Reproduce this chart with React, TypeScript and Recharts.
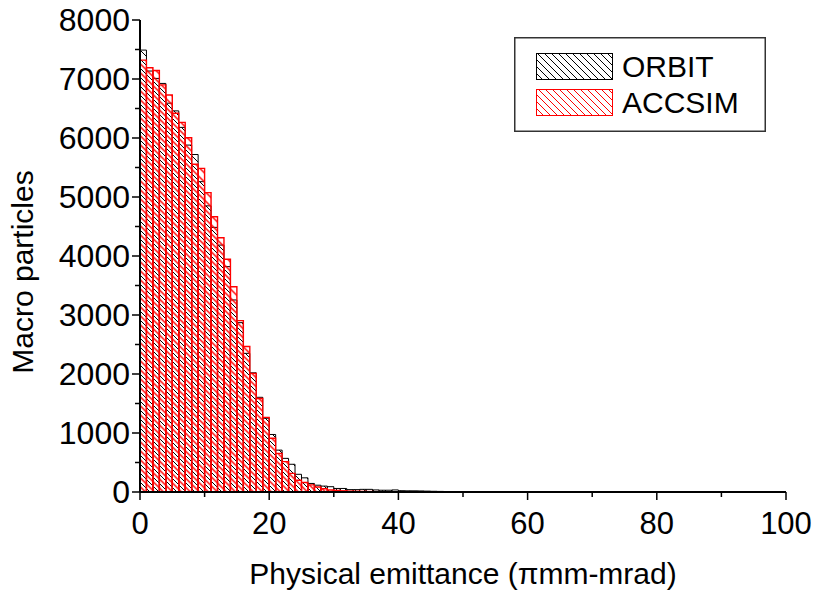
import React from 'react'
import { BarChart, Bar, XAxis, YAxis, Legend, Label } from 'recharts'

// histogram bins of width 1 (pi mm-mrad), 0..100
const binStarts = Array.from({ length: 100 }, (_, i) => i)

const orbit = [
  7490, 7135, 7010, 6925, 6590, 6460, 6180, 5880, 5720, 5260,
  4850, 4485, 4185, 3820, 3255, 2870, 2350, 2020, 1605, 1250,
  975, 710, 570, 470, 300, 240, 145, 115, 100, 90,
  60, 60, 40, 40, 45, 45, 35, 30, 30, 35,
  22, 20, 20, 18, 15, 12, 10, 8, 6, 6,
  5, 5, 4, 4, 3, 3, 3, 2, 2, 2,
  2, 1, 1, 1, 1, 1, 0, 0, 0, 0,
  0, 0, 0, 0, 0, 0, 0, 0, 0, 0,
  0, 0, 0, 0, 0, 0, 0, 0, 0, 0,
  0, 0, 0, 0, 0, 0, 0, 0, 0, 0,
]

const accsim = [
  7320, 7190, 7145, 6900, 6730, 6420, 6265, 6005, 5555, 5485,
  5075, 4665, 4310, 3945, 3480, 2905, 2465, 2010, 1585, 1265,
  910, 655, 515, 315, 200, 160, 120, 85, 55, 35,
  25, 20, 15, 12, 10, 8, 6, 5, 4, 3,
  3, 2, 2, 1, 1, 1, 0, 0, 0, 0,
  0, 0, 0, 0, 0, 0, 0, 0, 0, 0,
  0, 0, 0, 0, 0, 0, 0, 0, 0, 0,
  0, 0, 0, 0, 0, 0, 0, 0, 0, 0,
  0, 0, 0, 0, 0, 0, 0, 0, 0, 0,
  0, 0, 0, 0, 0, 0, 0, 0, 0, 0,
]

const xTicks = [0, 10, 20, 30, 40, 50, 60, 70, 80, 90, 100]
const yTicks = [0, 500, 1000, 1500, 2000, 2500, 3000, 3500, 4000, 4500, 5000, 5500, 6000, 6500, 7000, 7500, 8000]

const data = binStarts.map(i => ({ x: i + 0.5, orbit: orbit[i], accsim: accsim[i] }))

const FONT = '"Liberation Sans", Arial, Helvetica, sans-serif'
const HATCH = 9

const XTick = ({ x, y, payload }: any) => {
  const major = payload.value % 20 === 0
  return (
    <g>
      <line x1={x} y1={y} x2={x} y2={y + (major ? 8 : 5)} stroke="#000" strokeWidth={1.5} />
      {major && (
        <text x={x} y={y + 42} textAnchor="middle" fontSize={31} fill="#000">
          {payload.value}
        </text>
      )}
    </g>
  )
}

const YTick = ({ x, y, payload }: any) => {
  const major = payload.value % 1000 === 0
  return (
    <g>
      <line x1={x} y1={y} x2={x - (major ? 8 : 5)} y2={y} stroke="#000" strokeWidth={1.5} />
      {major && (
        <text x={x - 10} y={y + 11} textAnchor="end" fontSize={32} fill="#000">
          {payload.value}
        </text>
      )}
    </g>
  )
}

const Swatch = ({ id, color, y }: { id: string; color: string; y: number }) => (
  <rect x={22.5} y={y} width={76} height={26} fill={`url(#${id})`} stroke={color} strokeWidth={1} />
)

const LegendBox = () => (
  <svg width={252} height={95} style={{ display: 'block', fontFamily: FONT }}>
    <defs>
      <pattern id="lg-black" patternUnits="userSpaceOnUse" width={7} height={7}>
        <path d="M0,0L7,7M-1,6L1,8M6,-1L8,1" stroke="#000" strokeWidth={1} />
      </pattern>
      <pattern id="lg-red" patternUnits="userSpaceOnUse" width={7} height={7}>
        <path d="M0,0L7,7M-1,6L1,8M6,-1L8,1" stroke="#ff0000" strokeWidth={1} />
      </pattern>
    </defs>
    <rect x={0.75} y={0.75} width={250.5} height={93.5} fill="#fff" stroke="#333" strokeWidth={1.5} />
    <Swatch id="lg-black" color="#000" y={16.5} />
    <text x={108} y={40} fontSize={30} fill="#000">ORBIT</text>
    <Swatch id="lg-red" color="#ff0000" y={52.5} />
    <text x={108} y={76} fontSize={30} fill="#000">ACCSIM</text>
  </svg>
)

const hatchPath = `M0,0L${HATCH},${HATCH}M-1,${HATCH - 1}L1,${HATCH + 1}M${HATCH - 1},-1L${HATCH + 1},1`

export default function App() {
  return (
    <div style={{ width: 814, height: 591, fontFamily: FONT, background: '#fff' }}>
      <style>{'body{margin:0}'}</style>
      <BarChart
        width={814}
        height={591}
        data={data}
        margin={{ top: 20, right: 28, bottom: 0, left: 0 }}
        barGap={-6.45}
        barCategoryGap={0}
      >
        <defs>
          <pattern id="hatch-black" patternUnits="userSpaceOnUse" width={HATCH} height={HATCH}>
            <path d={hatchPath} stroke="#000" strokeWidth={1} />
          </pattern>
          <pattern
            id="hatch-red"
            patternUnits="userSpaceOnUse"
            width={HATCH}
            height={HATCH}
            patternTransform={`translate(${HATCH / 2},0)`}
          >
            <path d={hatchPath} stroke="#ff0000" strokeWidth={1.4} />
          </pattern>
        </defs>
        <XAxis
          dataKey="x"
          type="number"
          domain={[0, 100]}
          ticks={xTicks}
          interval={0}
          allowDataOverflow
          height={99}
          tickSize={0}
          tickMargin={0}
          tick={<XTick />}
          axisLine={{ stroke: '#000', strokeWidth: 2 }}
        >
          <Label
            content={({ viewBox }: any) => (
              <text
                x={viewBox.x + viewBox.width / 2}
                y={viewBox.y + 92}
                textAnchor="middle"
                fontSize={30}
                fill="#000"
              >
                Physical emittance (πmm-mrad)
              </text>
            )}
          />
        </XAxis>
        <YAxis
          type="number"
          domain={[0, 8000]}
          ticks={yTicks}
          interval={0}
          width={140}
          tickSize={0}
          tickMargin={0}
          tick={<YTick />}
          axisLine={{ stroke: '#000', strokeWidth: 2 }}
        >
          <Label
            content={({ viewBox }: any) => {
              const cx = viewBox.x + 33
              const cy = viewBox.y + viewBox.height / 2 + 16
              return (
                <text
                  x={cx}
                  y={cy}
                  transform={`rotate(-90 ${cx} ${cy})`}
                  textAnchor="middle"
                  fontSize={30}
                  fill="#000"
                >
                  Macro particles
                </text>
              )
            }}
          />
        </YAxis>
        <Legend
          layout="vertical"
          align="center"
          verticalAlign="middle"
          content={<LegendBox />}
          wrapperStyle={{ left: 514, top: 37, width: 252, height: 95 }}
        />
        <Bar
          dataKey="orbit"
          name="ORBIT"
          barSize={6.45}
          fill="url(#hatch-black)"
          stroke="#000"
          strokeWidth={1}
          isAnimationActive={false}
        />
        <Bar
          dataKey="accsim"
          name="ACCSIM"
          barSize={6.45}
          fill="url(#hatch-red)"
          stroke="#ff0000"
          strokeWidth={1.4}
          isAnimationActive={false}
        />
      </BarChart>
    </div>
  )
}
